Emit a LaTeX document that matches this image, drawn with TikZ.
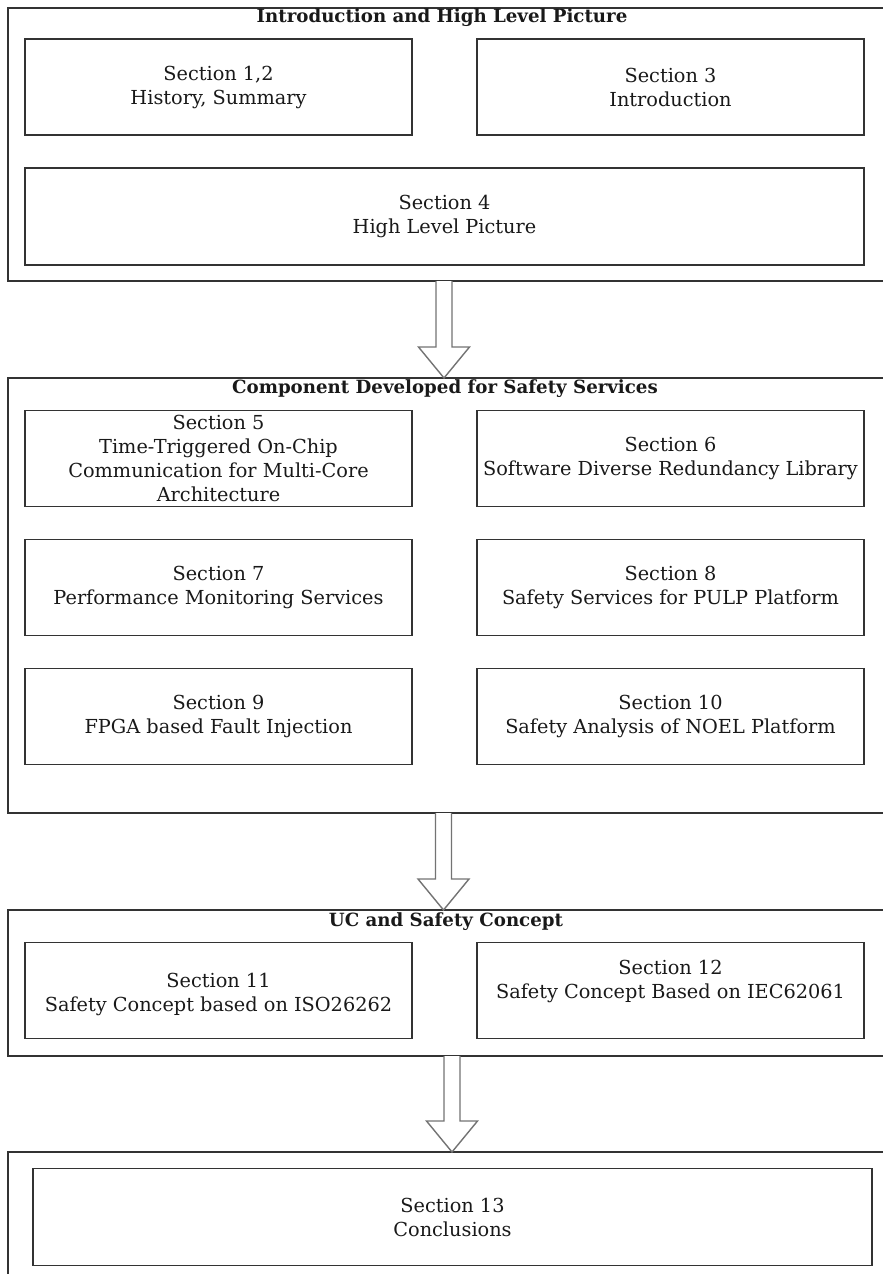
\documentclass[tikz,border=0pt]{standalone}
\usepackage{fontspec}
\setmainfont{DejaVu Serif}
\usetikzlibrary{calc}
\begin{document}
\begin{tikzpicture}[x=1pt,y=-1pt,
  frame/.style={draw=black!80, line width=1.4pt},
  btext/.style={align=center, text=black!90, font=\fontsize{19.3}{24}\selectfont},
  sbox/.style={btext, draw=black!80, line width=1.4pt, rectangle, inner sep=0pt, outer sep=0pt},
  gtitle/.style={inner sep=0pt, font=\bfseries\fontsize{18.2}{22}\selectfont, text=black!90},
  blockarrow/.style={draw=black!55, line width=1.4pt, fill=white, line join=miter},
  wbox/.style={sbox, minimum width=387pt, minimum height=96pt},
  fbox/.style={sbox, minimum width=839pt, minimum height=97pt}]
\useasboundingbox (0,0) rectangle (883,1274);

% group frames (right side runs off the page)
\draw[frame] (884,8) -- (8,8) -- (8,281) -- (884,281);
\draw[frame] (884,378) -- (8,378) -- (8,813) -- (884,813);
\draw[frame] (884,910) -- (8,910) -- (8,1056) -- (884,1056);
\draw[frame] (884,1152) -- (8,1152) -- (8,1275);

% group titles
\node[gtitle] (t1) at (442,18) {Introduction and High Level Picture};
\node[gtitle] (t2) at (445,389) {Component Developed for Safety Services};
\node[gtitle] (t3) at (446,922) {UC and Safety Concept};

% introduction group
\node[wbox] (s12) at (218.5,87) {Section 1,2\\History, Summary};
\node[wbox] (s3) at (670.5,87) {Section 3\\Introduction};
\node[fbox] (s4) at (444.5,216.5) {Section 4\\High Level Picture};

% component group
\node[wbox] (s5) at (218.5,458.5) {Section 5\\Time-Triggered On-Chip\\Communication for Multi-Core\\Architecture};
\node[wbox] (s6) at (670.5,458.5) {Section 6\\Software Diverse Redundancy Library};
\node[wbox] (s7) at (218.5,587.5) {Section 7\\Performance Monitoring Services};
\node[wbox] (s8) at (670.5,587.5) {Section 8\\Safety Services for PULP Platform};
\node[wbox] (s9) at (218.5,716.5) {Section 9\\FPGA based Fault Injection};
\node[wbox] (s10) at (670.5,716.5) {Section 10\\Safety Analysis of NOEL Platform};

% use case group
\node[wbox] (s11) at (218.5,990.5) {};
\node[btext] (s11t) at (218.5,994) {Section 11\\Safety Concept based on ISO26262};
\node[wbox] (s12b) at (670.5,990.5) {};
\node[btext] (s12t) at (670.5,981) {Section 12\\Safety Concept Based on IEC62061};

% conclusions group
\node[fbox] (s13) at (452.5,1217) {Section 13\\Conclusions};

% block arrows between groups
\coordinate (a1s) at (444,281);  \coordinate (a1e) at (444,378);
\coordinate (a2s) at (443.5,813); \coordinate (a2e) at (443.5,910);
\coordinate (a3s) at (452,1056); \coordinate (a3e) at (452,1152);
\foreach \s/\e in {a1s/a1e, a2s/a2e, a3s/a3e}{
  \draw[blockarrow] ($(\s)+(-8,0)$) -- ($(\e)+(-8,-31)$) -- ($(\e)+(-25.5,-31)$) -- (\e)
    -- ($(\e)+(25.5,-31)$) -- ($(\e)+(8,-31)$) -- ($(\s)+(8,0)$);
}
\end{tikzpicture}
\end{document}
